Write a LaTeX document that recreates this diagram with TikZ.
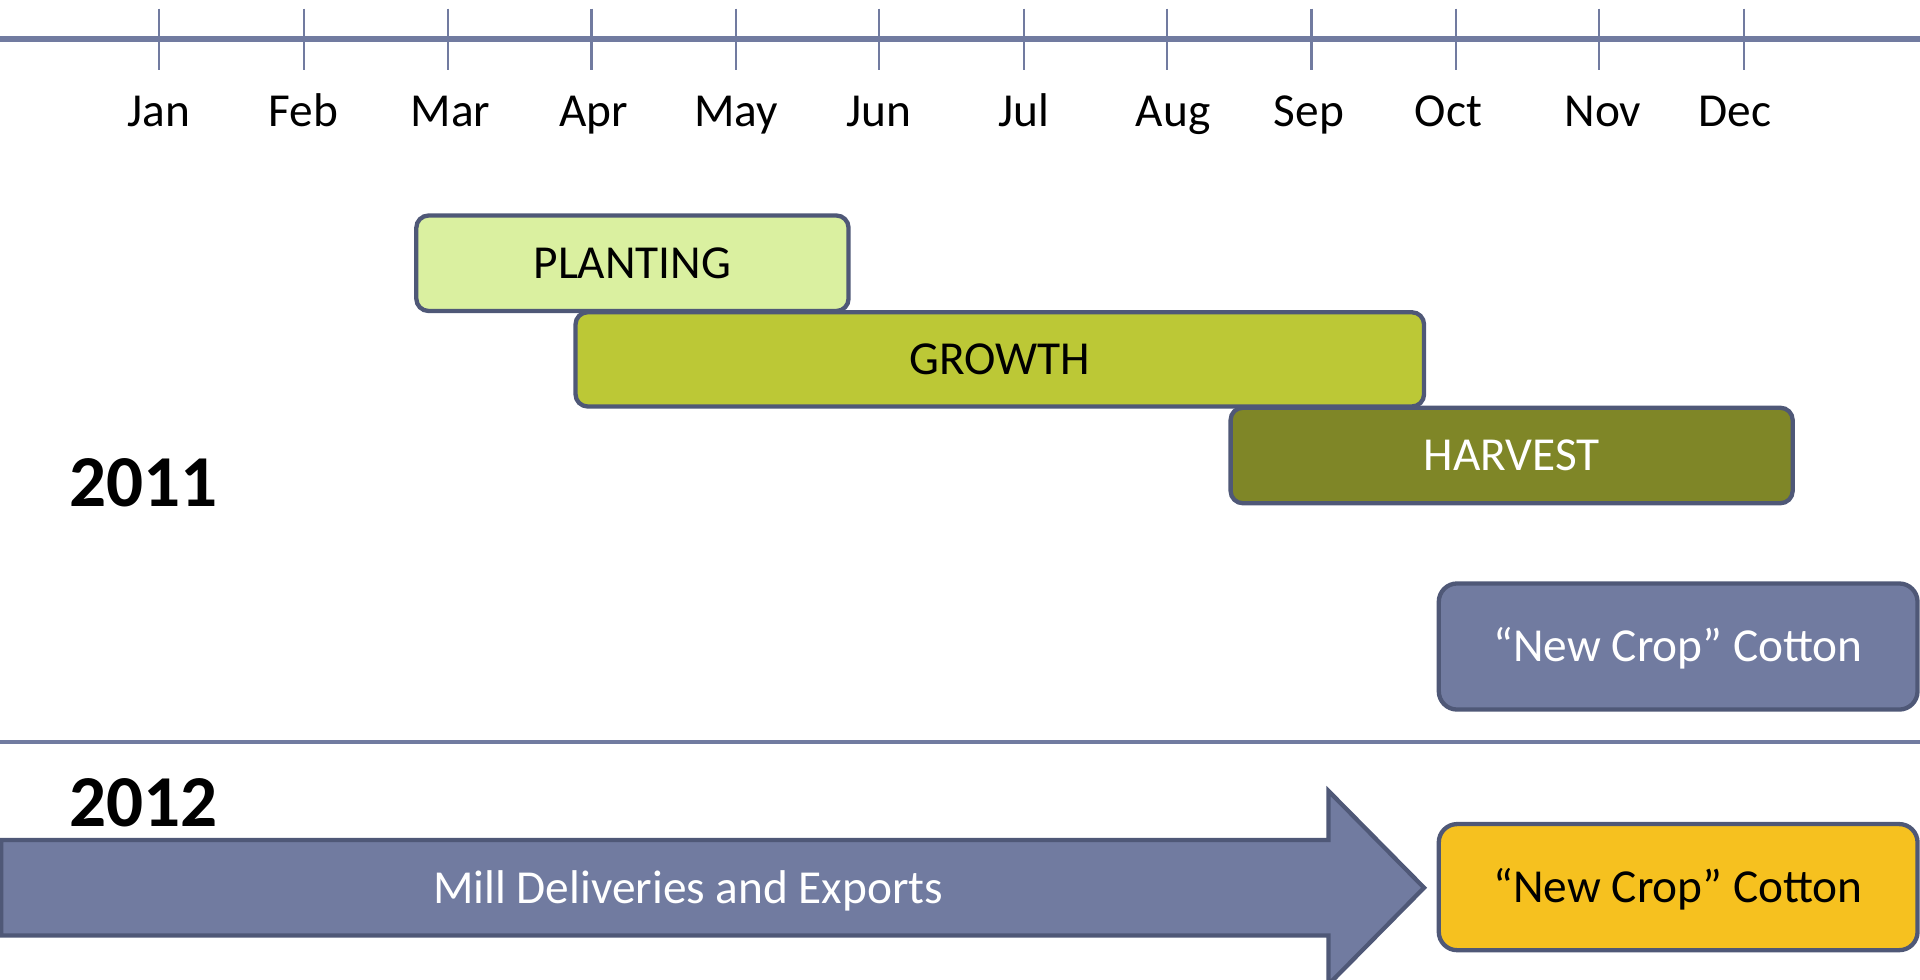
\documentclass[tikz,border=0pt]{standalone}
\usepackage{fontspec}
\setmainfont{Carlito}
\usepackage{tikz}
\usetikzlibrary{positioning}
\definecolor{slate}{HTML}{717BA0}
\definecolor{slatedark}{HTML}{4F5877}
\definecolor{lightgreen}{HTML}{DAF0A0}
\definecolor{midgreen}{HTML}{BCC836}
\definecolor{olive}{HTML}{7F8627}
\definecolor{gold}{HTML}{F6C11F}
\tikzstyle{month}=[inner sep=0pt, anchor=base, font=\fontsize{11}{13}\selectfont]
\tikzstyle{phase}=[draw=slatedark, line width=1pt, rounded corners=1mm, inner sep=0pt, text height=1.6ex, text depth=0.1ex, font=\fontsize{11}{13}\selectfont]
\tikzstyle{crop}=[phase, rounded corners=1.5mm, minimum width=3.91cm, minimum height=1.03cm]
\tikzstyle{year}=[inner sep=0pt, font=\fontsize{17}{20}\selectfont\bfseries]
\tikzstyle{tick}=[slate, line width=0.5pt]

\begin{document}
\begin{tikzpicture}[x=0.1mm, y=-0.1mm]
\useasboundingbox (0,0) rectangle (1568,800);
% the time axis
\draw[slate, line width=1.4pt] (0,32) -- (1568,32);
\draw[tick] (130,7) -- (130,57);
\draw[tick] (248,7) -- (248,57);
\draw[tick] (366,7) -- (366,57);
\draw[tick] (483,7) -- (483,57);
\draw[tick] (601,7) -- (601,57);
\draw[tick] (718,7) -- (718,57);
\draw[tick] (836,7) -- (836,57);
\draw[tick] (953,7) -- (953,57);
\draw[tick] (1071,7) -- (1071,57);
\draw[tick] (1189,7) -- (1189,57);
\draw[tick] (1306,7) -- (1306,57);
\draw[tick] (1424,7) -- (1424,57);
% the months
\node[month] (jan) at (130,103) {Jan};
\node[month] (feb) at (248,103) {Feb};
\node[month] (mar) at (368,103) {Mar};
\node[month] (apr) at (485,103) {Apr};
\node[month] (may) at (601,103) {May};
\node[month] (jun) at (718,103) {Jun};
\node[month] (jul) at (836,103) {Jul};
\node[month] (aug) at (958,103) {Aug};
\node[month] (sep) at (1069,103) {Sep};
\node[month] (oct) at (1183,103) {Oct};
\node[month] (nov) at (1309,103) {Nov};
\node[month] (dec) at (1417,103) {Dec};
% the 2011 season
\node[phase, fill=lightgreen, minimum width=3.53cm, minimum height=0.78cm] (planting) at (516.5,215) {PLANTING};
\node[phase, fill=midgreen, minimum width=6.93cm, minimum height=0.77cm] (growth) at (816.5,293.5) {GROWTH};
\node[phase, fill=olive, text=white, minimum width=4.59cm, minimum height=0.78cm] (harvest) at (1234.5,372) {HARVEST};
\node[year] (y2011) at (117,394) {2011};
\node[crop, fill=slate, text=white] (newcrop) at (1370.5,528) {“New Crop” Cotton};
% the year separator
\draw[slate, line width=1pt] (0,606) -- (1568,606);
% the 2012 season
\node[year] (y2012) at (117,656) {2012};
\draw[fill=slate, draw=slatedark, line width=1pt] (1,686) -- (1085,686) -- (1085,646) -- (1163,725) -- (1085,804) -- (1085,764) -- (1,764) -- cycle;
\node[phase, draw=none, text=white] (mill) at (562,725) {Mill Deliveries and Exports};
\node[crop, fill=gold] (oldcrop) at (1370.5,724.5) {“New Crop” Cotton};
\end{tikzpicture}
\end{document}
